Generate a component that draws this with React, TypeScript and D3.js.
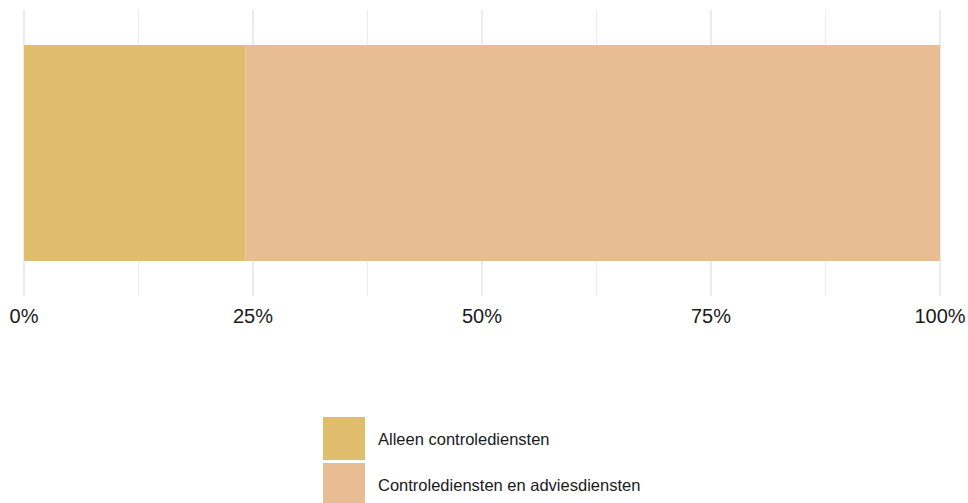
import React from "react";
import * as d3 from "d3";

const categories = ["Alleen controlediensten", "Controlediensten en adviesdiensten"];
const values = [24.2, 75.8];
const colors = ["#e0bd6d", "#e8bd94"];
const tickValues = [0, 25, 50, 75, 100];
const minorTicks = [12.5, 37.5, 62.5, 87.5];

export default function App() {
  const W = 968, H = 503;
  const x = d3.scaleLinear().domain([0, 100]).range([24, 940]);
  const barTop = 45, barBottom = 261;
  const gridTop = 10, gridBottom = 296;
  let acc = 0;
  const stacks = values.map((v, i) => {
    const s = { x0: acc, x1: acc + v, color: colors[i], label: categories[i] };
    acc += v;
    return s;
  });
  return (
    <svg width={W} height={H} style={{ position: "absolute", left: 0, top: 0, background: "#fff" }}
      fontFamily="'Liberation Sans', Arial, sans-serif">
      {minorTicks.map((t) => (
        <line key={"m" + t} x1={x(t)} x2={x(t)} y1={gridTop} y2={gridBottom} stroke="#ebebeb" strokeWidth={1} />
      ))}
      {tickValues.map((t) => (
        <line key={"g" + t} x1={x(t)} x2={x(t)} y1={gridTop} y2={gridBottom} stroke="#ebebeb" strokeWidth={2} />
      ))}
      {stacks.map((s, i) => (
        <rect key={i} x={x(s.x0)} y={barTop} width={x(s.x1) - x(s.x0)} height={barBottom - barTop} fill={s.color} />
      ))}
      {tickValues.map((t) => (
        <text key={"t" + t} x={x(t)} y={323} textAnchor="middle" fontSize={20} fill="#1a1a1a">{t + "%"}</text>
      ))}
      {categories.map((c, i) => (
        <g key={c} transform={`translate(323, ${417 + i * 46})`}>
          <rect x={0} y={0} width={42} height={43} fill={colors[i]} />
          <text x={55} y={21.5} dominantBaseline="central" fontSize={16.5} fill="#1a1a1a">{c}</text>
        </g>
      ))}
    </svg>
  );
}
